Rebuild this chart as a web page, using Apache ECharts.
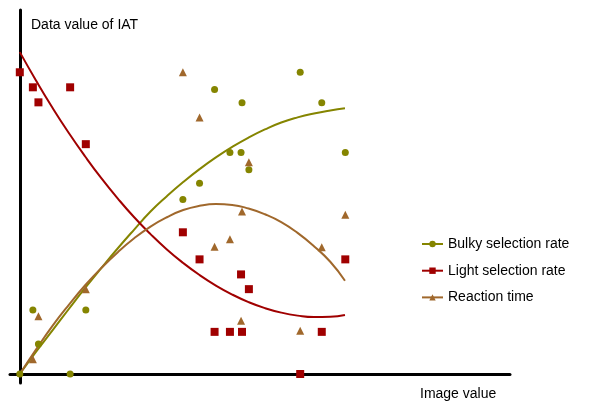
<!DOCTYPE html>
<html>
<head>
<meta charset="utf-8">
<script src="https://cdn.jsdelivr.net/npm/echarts@6/dist/echarts.min.js"></script>
<style>
  html, body { margin: 0; padding: 0; background: #fff; }
  #main { width: 590px; height: 401px; }
</style>
</head>
<body>
<div id="main"></div>
<script>
// series names
var seriesNames = ['Bulky selection rate', 'Light selection rate', 'Reaction time'];

// scatter points [image value, IAT value]
var bulkyPoints = [
    [0, 0], [4, 21.3], [5.7, 10], [15.4, 0], [20.2, 21.3], [49.9, 58], [55, 63.4],
    [59.6, 94.6], [64.3, 73.6], [67.7, 73.6], [68, 90.2], [70.1, 67.9], [85.8, 100.3],
    [92.4, 90.2], [99.6, 73.6]
];
var lightPoints = [
    [0, 100.3], [4, 95.3], [5.7, 90.3], [15.4, 95.3], [20.2, 76.4], [49.9, 47.1], [55, 38.1],
    [59.6, 14], [64.3, 14], [67.7, 33.1], [68, 14], [70.1, 28.2], [85.8, 0], [92.4, 14],
    [99.6, 38.1]
];
var reactionPoints = [
    [4, 4.9], [5.7, 19.2], [20.2, 28.2], [49.9, 100.3], [55, 85.3], [59.6, 42.3], [64.3, 44.8],
    [68, 54], [67.7, 17.7], [70.1, 70.4], [85.8, 14.4], [92.4, 42.1], [99.6, 52.9]
];

// fitted curves
var curveX = [0, 5, 10, 15, 20, 25, 30, 35, 40, 45, 50, 55, 60, 65, 70, 75, 80, 85, 90, 95, 99.5];
var bulkyCurve = [0, 7.4, 14.5, 21.6, 28.6, 35.3, 41.8, 48, 54, 59.1, 63.8, 68.1, 72, 75.5,
    78.6, 81.3, 83.6, 85.3, 86.6, 87.6, 88.3];
var lightCurve = [107, 97.5, 88.5, 80.1, 72.3, 65, 58.3, 52.1, 46.5, 41.4, 36.9, 32.9, 29.4,
    26.4, 23.9, 21.9, 20.4, 19.4, 18.9, 19, 19.6];
var reactionCurve = [0, 8.2, 16, 23, 29.5, 35.3, 40.5, 45.1, 49, 52.1, 54.5, 55.9, 56.5, 56.2,
    55, 53.1, 50.5, 46.9, 42.5, 37.3, 31];

var colors = ['#858500', '#a00000', '#a0682c'];
var symbols = ['circle', 'rect', 'triangle'];
var symbolSizes = [7, 8, 8];

var myChart = echarts.init(document.getElementById('main'));

function pairs(ys) {
    return ys.map(function (y, k) { return [curveX[k], y]; });
}

var curves = [bulkyCurve, lightCurve, reactionCurve];
var points = [bulkyPoints, lightPoints, reactionPoints];
var series = [];
for (var i = 0; i < 3; i++) {
    series.push({
        name: seriesNames[i],
        type: 'line',
        data: pairs(curves[i]),
        smooth: true,
        showSymbol: false,
        symbol: symbols[i],
        symbolSize: symbolSizes[i],
        itemStyle: { color: colors[i] },
        lineStyle: { color: colors[i], width: 2 },
        silent: true,
        z: 2
    });
}
for (var j = 0; j < 3; j++) {
    series.push({
        name: seriesNames[j],
        type: 'scatter',
        data: points[j],
        symbol: symbols[j],
        symbolSize: symbolSizes[j],
        itemStyle: { color: colors[j], opacity: 1 },
        z: 3
    });
}

var option = {
    animation: false,
    textStyle: { fontFamily: 'Liberation Sans, Arial, sans-serif' },
    grid: { left: 10, right: 80, top: 10, bottom: 18 },
    xAxis: {
        type: 'value',
        min: -3,
        max: 150,
        axisLine: { onZero: true, lineStyle: { color: '#000', width: 3 } },
        axisTick: { show: false },
        axisLabel: { show: false },
        splitLine: { show: false }
    },
    yAxis: {
        type: 'value',
        min: -3,
        max: 121,
        axisLine: { show: true, onZero: true, lineStyle: { color: '#000', width: 3 } },
        axisTick: { show: false },
        axisLabel: { show: false },
        splitLine: { show: false }
    },
    legend: {
        data: seriesNames,
        orient: 'vertical',
        left: 416,
        top: 232,
        itemWidth: 21,
        itemHeight: 8,
        itemGap: 12.7,
        textStyle: { color: '#000', fontSize: 14, fontFamily: 'Liberation Sans, Arial, sans-serif' }
    },
    graphic: [
        {
            type: 'text', left: 31, top: 18,
            style: { text: 'Data value of IAT', fontSize: 14, fill: '#000', fontFamily: 'Liberation Sans, Arial, sans-serif' }
        },
        {
            type: 'text', left: 420, top: 387,
            style: { text: 'Image value', fontSize: 14, fill: '#000', fontFamily: 'Liberation Sans, Arial, sans-serif' }
        }
    ],
    series: series
};
myChart.setOption(option);
</script>
</body>
</html>
